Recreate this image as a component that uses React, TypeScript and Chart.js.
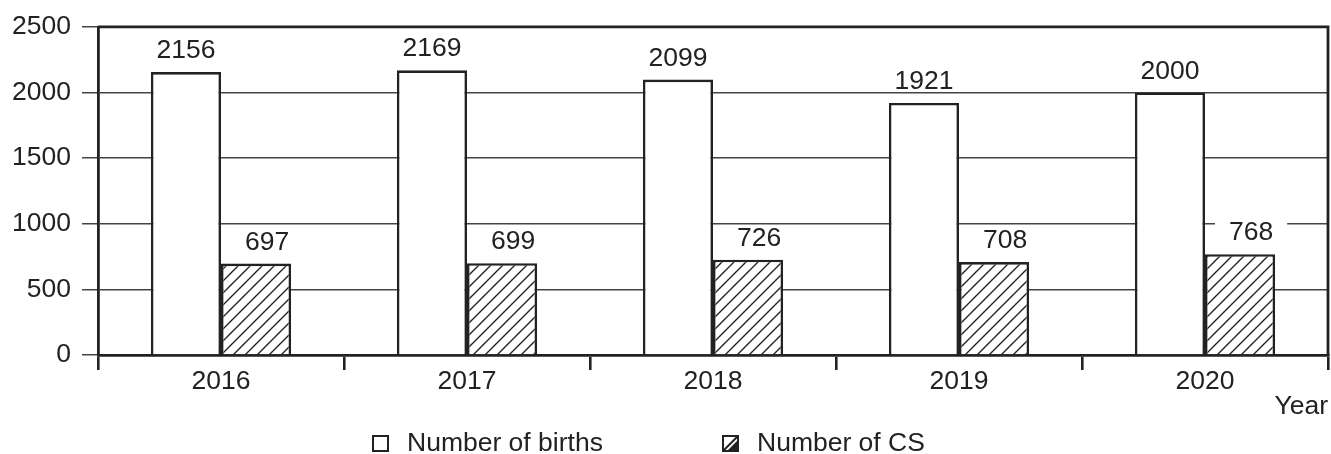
import React, { useEffect, useRef } from "react";
import { Chart, registerables } from "chart.js";

Chart.register(...registerables);

const categories = ["2016", "2017", "2018", "2019", "2020"];
const births = [2156, 2169, 2099, 1921, 2000];
const cesareans = [697, 699, 726, 708, 768];
const seriesLabels = ["Number of births", "Number of CS"];
const yMin = 0;
const yMax = 2500;
const yStep = 500;
const xTitle = "Year";

const FONT_FAMILY = "'Liberation Sans', Arial, sans-serif";
const FONT_SIZE = 26.5;
const INK = "#222";

function makeHatch(): CanvasPattern | string {
  const s = 12;
  const c = document.createElement("canvas");
  c.width = s;
  c.height = s;
  const g = c.getContext("2d");
  if (!g) return "#fff";
  g.fillStyle = "#fff";
  g.fillRect(0, 0, s, s);
  g.strokeStyle = INK;
  g.lineWidth = 1.4;
  g.beginPath();
  g.moveTo(-1, s + 1);
  g.lineTo(s + 1, -1);
  g.moveTo(-2, 2);
  g.lineTo(2, -2);
  g.moveTo(s - 2, s + 2);
  g.lineTo(s + 2, s - 2);
  g.stroke();
  const p = g.createPattern(c, "repeat");
  return p || "#fff";
}

const frameAndLabels = {
  id: "frameAndLabels",
  afterDatasetsDraw(chart: any) {
    const { ctx, chartArea } = chart;
    ctx.save();
    ctx.strokeStyle = INK;
    ctx.lineWidth = 2.8;
    ctx.beginPath();
    ctx.moveTo(chartArea.left, chartArea.top);
    ctx.lineTo(chartArea.right, chartArea.top);
    ctx.lineTo(chartArea.right, chartArea.bottom);
    ctx.stroke();

    ctx.font = `${FONT_SIZE}px ${FONT_FAMILY}`;
    ctx.textAlign = "center";
    ctx.textBaseline = "alphabetic";
    chart.data.datasets.forEach((ds: any, i: number) => {
      const meta = chart.getDatasetMeta(i);
      meta.data.forEach((el: any, j: number) => {
        const text = String(ds.data[j]);
        const x = el.x + (i === 1 ? 11 : 0);
        const y = el.y - 14;
        const w = ctx.measureText(text).width;
        ctx.fillStyle = "#fff";
        ctx.fillRect(x - w / 2 - 14, y - 19.5, w + 28, 20.5);
        ctx.fillStyle = INK;
        ctx.fillText(text, x, y);
      });
    });
    ctx.restore();
  },
  afterDraw(chart: any) {
    const { ctx } = chart;
    const labels = chart.data.datasets.map((d: any) => d.label);
    ctx.save();
    ctx.font = `${FONT_SIZE}px ${FONT_FAMILY}`;
    ctx.textAlign = "left";
    ctx.textBaseline = "alphabetic";
    const items = [
      { bx: 373, tx: 407, hatch: false },
      { bx: 723, tx: 757, hatch: true },
    ];
    items.forEach((it, i) => {
      const by = 436;
      const bs = 15;
      ctx.fillStyle = "#fff";
      ctx.fillRect(it.bx, by, bs, bs);
      ctx.strokeStyle = INK;
      ctx.lineWidth = 2;
      ctx.strokeRect(it.bx, by, bs, bs);
      if (it.hatch) {
        ctx.beginPath();
        ctx.moveTo(it.bx + 1, by + bs - 1);
        ctx.lineTo(it.bx + bs - 1, by + 1);
        ctx.lineWidth = 2;
        ctx.stroke();
        ctx.beginPath();
        ctx.moveTo(it.bx + bs, by + bs);
        ctx.lineTo(it.bx + bs, by + 4);
        ctx.lineTo(it.bx + 4, by + bs);
        ctx.closePath();
        ctx.fillStyle = INK;
        ctx.fill();
      }
      ctx.fillStyle = INK;
      ctx.fillText(labels[i], it.tx, 451);
    });
    ctx.restore();
  },
};

export default function App() {
  const ref = useRef<HTMLCanvasElement | null>(null);

  useEffect(() => {
    document.body.style.margin = "0";
    if (!ref.current) return;
    const font = { family: FONT_FAMILY, size: FONT_SIZE };
    const chart = new Chart(ref.current, {
      type: "bar",
      data: {
        labels: categories,
        datasets: [
          {
            label: seriesLabels[0],
            data: births,
            backgroundColor: "#fff",
            borderColor: INK,
            borderWidth: 2.6,
            categoryPercentage: 0.57,
            barPercentage: 1.0,
          },
          {
            label: seriesLabels[1],
            data: cesareans,
            backgroundColor: makeHatch() as any,
            borderColor: INK,
            borderWidth: 2.6,
            categoryPercentage: 0.57,
            barPercentage: 1.0,
          },
        ],
      },
      options: {
        animation: false,
        responsive: false,
        layout: { padding: { top: 26, right: 3, left: 0, bottom: 0 } },
        plugins: {
          legend: { display: false },
          tooltip: { enabled: false },
        },
        scales: {
          x: {
            grid: {
              offset: true,
              drawOnChartArea: false,
              drawTicks: true,
              tickLength: 15,
              color: INK,
              lineWidth: 2.6,
            },
            border: { display: true, color: INK, width: 2.8 },
            ticks: { font, color: INK, padding: -4 },
            title: {
              display: true,
              text: xTitle,
              align: "end",
              font,
              color: INK,
              padding: { top: 0, bottom: 31 },
            },
            afterFit: (s: any) => {
              s.height = 99;
            },
          },
          y: {
            min: yMin,
            max: yMax,
            ticks: {
              stepSize: yStep,
              font,
              color: INK,
              padding: 11,
              callback: (v: any) => String(v),
            },
            grid: { color: "#444", lineWidth: 1.5, tickLength: 16 },
            border: { display: true, color: INK, width: 2.8 },
            afterFit: (s: any) => {
              s.width = 98;
            },
          },
        },
      },
      plugins: [frameAndLabels],
    } as any);
    return () => chart.destroy();
  }, []);

  return (
    <div style={{ width: 1331, height: 454 }}>
      <canvas ref={ref} width={1331} height={454} style={{ width: 1331, height: 454, display: "block" }} />
    </div>
  );
}
